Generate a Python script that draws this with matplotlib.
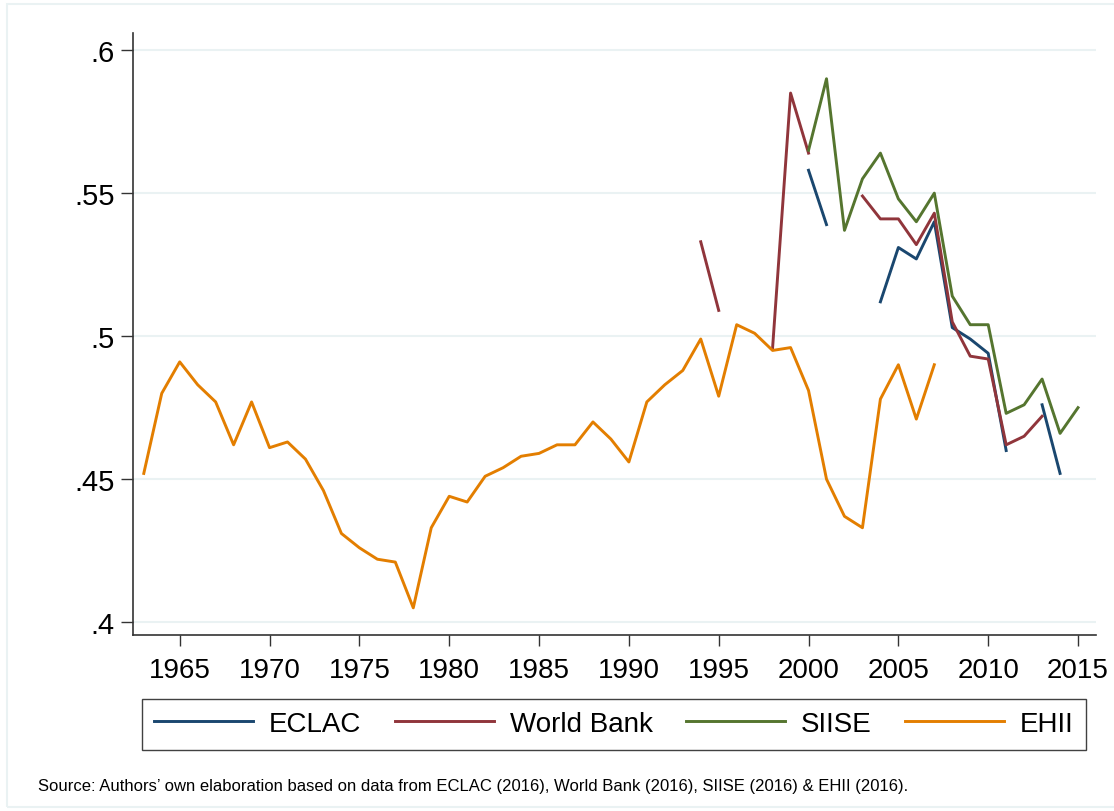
import numpy as np
import matplotlib.pyplot as plt
from matplotlib.patches import Rectangle

nan = np.nan

# ------------------------------------------------------------
# data
# ------------------------------------------------------------
years_ehii = list(range(1963, 2008))
ehii = [0.452, 0.480, 0.491, 0.483, 0.477, 0.462, 0.477, 0.461, 0.463, 0.457,
        0.446, 0.431, 0.426, 0.422, 0.421, 0.405, 0.433, 0.444, 0.442, 0.451,
        0.454, 0.458, 0.459, 0.462, 0.462, 0.470, 0.464, 0.456, 0.477, 0.483,
        0.488, 0.499, 0.479, 0.504, 0.501, 0.495, 0.496, 0.481, 0.450, 0.437,
        0.433, 0.478, 0.490, 0.471, 0.490]

years_wb = list(range(1994, 2014))
world_bank = [0.533, 0.509, nan, nan, 0.496, 0.585, 0.564, nan, nan, 0.549,
              0.541, 0.541, 0.532, 0.543, 0.505, 0.493, 0.492, 0.462, 0.465, 0.472]

years_siise = list(range(2000, 2016))
siise = [0.565, 0.590, 0.537, 0.555, 0.564, 0.548, 0.540, 0.550, 0.514, 0.504,
         0.504, 0.473, 0.476, 0.485, 0.466, 0.475]

years_eclac = list(range(2000, 2015))
eclac = [0.558, 0.539, nan, nan, 0.512, 0.531, 0.527, 0.540, 0.503, 0.499,
         0.494, 0.460, nan, 0.476, 0.452]

x_ticks = list(range(1965, 2016, 5))
y_ticks = [0.4, 0.45, 0.5, 0.55, 0.6]
y_tick_labels = ['.4', '.45', '.5', '.55', '.6']

source_note = ("Source: Authors\u2019 own elaboration based on data from ECLAC (2016), "
               "World Bank (2016), SIISE (2016) & EHII (2016).")

# stata s2color
c_navy = '#1a476f'
c_maroon = '#90353b'
c_green = '#55752f'
c_orange = '#e37e00'
c_grid = '#eaf2f3'

plt.rcParams['font.family'] = ['Liberation Sans', 'DejaVu Sans']

fig = plt.figure(figsize=(11.14, 8.12), dpi=100)
ax = fig.add_axes([133 / 1114, 1 - 636 / 812, (1096 - 133) / 1114, (636 - 34) / 812])

lw = 2.1
ax.plot(years_eclac, eclac, color=c_navy, lw=lw, label='ECLAC')
ax.plot(years_wb, world_bank, color=c_maroon, lw=lw, label='World Bank')
ax.plot(years_siise, siise, color=c_green, lw=lw, label='SIISE')
ax.plot(years_ehii, ehii, color=c_orange, lw=lw, label='EHII')

ax.set_xlim(1962.4, 2016.0)
ax.set_ylim(0.3955, 0.606)
ax.set_xticks(x_ticks)
ax.set_xticklabels([str(t) for t in x_ticks], fontsize=20)
ax.set_yticks(y_ticks)
ax.set_yticklabels(y_tick_labels, fontsize=21)
ax.tick_params(axis='x', length=8, width=1, color='#333333', pad=8)
ax.tick_params(axis='y', length=9, width=1, color='#333333', pad=4)

ax.grid(axis='y', color=c_grid, lw=1.5)
ax.set_axisbelow(True)
for s in ['top', 'right']:
    ax.spines[s].set_visible(False)
for s in ['left', 'bottom']:
    ax.spines[s].set_color('#333333')
    ax.spines[s].set_linewidth(1.2)

leg = fig.legend(loc='center', ncol=4, bbox_to_anchor=(614 / 1114, 1 - 725 / 812),
                 prop={'size': 20}, frameon=True, fancybox=False,
                 handlelength=3.56, columnspacing=1.2, handletextpad=0.58,
                 borderpad=0.45, borderaxespad=0)
leg.get_frame().set_edgecolor('#111111')
leg.get_frame().set_linewidth(1.0)

fig.text(38 / 1114, 1 - 787 / 812, source_note, fontsize=12,
         va='center', ha='left')

fig.patches.append(Rectangle((7 / 1114, 0.005), 1.2, 1 - 5 / 812 - 0.005,
                             transform=fig.transFigure, fill=False,
                             edgecolor=c_grid, lw=1.5))

fig.savefig('out.png', dpi=100)
